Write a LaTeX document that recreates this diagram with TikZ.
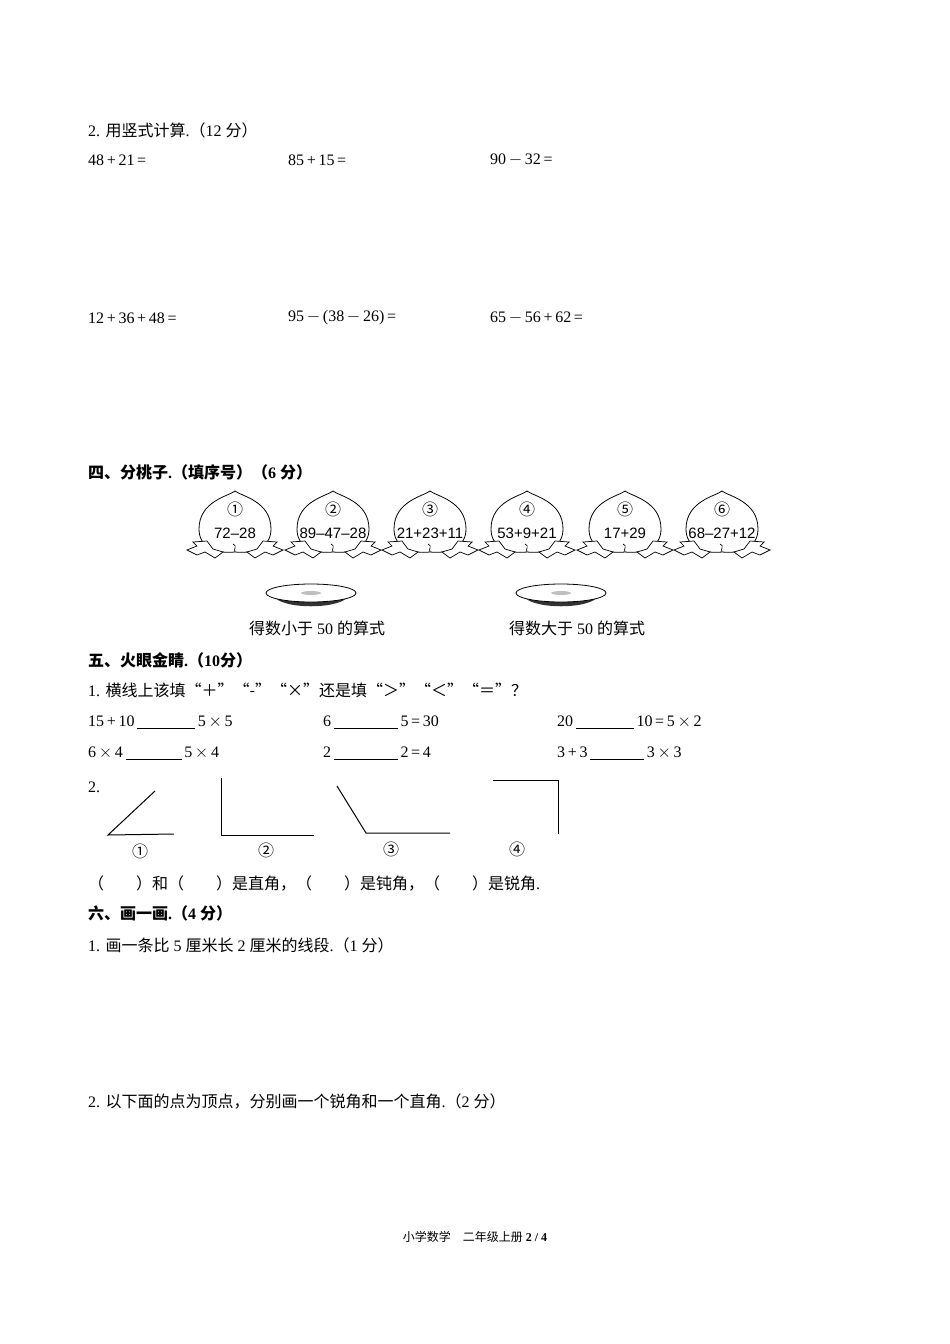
\documentclass[tikz,border=0pt]{standalone}
\usepackage{fontspec}
\setmainfont{Liberation Serif}
\newfontfamily\cjk{Noto Sans CJK SC}
\newfontfamily\pnum{Liberation Sans}
\usetikzlibrary{positioning}
\newcommand{\zh}[1]{{\cjk #1}}
\newcommand{\blank}[1]{\underline{\hspace{#1}}}

\tikzset{
  txt/.style={anchor=west, inner sep=0pt, font=\fontsize{16}{19}\selectfont},
  head/.style={txt, font=\fontsize{16}{19}\selectfont\bfseries},
  numlabel/.style={inner sep=0pt, font=\fontsize{16}{18}\selectfont\cjk},
  ray/.style={line width=1pt},
  peach/.pic={
    \draw[line width=0.8pt,fill=white] (0,-36) .. controls (-6,-31) and (-36,-26) .. (-36,2)
      .. controls (-36,20) and (-20,27) .. (0,25)
      .. controls (20,27) and (36,20) .. (36,2)
      .. controls (36,-26) and (6,-31) .. (0,-36) -- cycle;
    \draw[line width=0.7pt] (-2,17) .. controls (3,19) and (-2,22) .. (0,25);
    \draw[line width=0.7pt,fill=white] (-28,14) -- (-42,15) -- (-38,19) -- (-48,23) -- (-38,28)
      -- (-30,25) -- (-20,31) -- (-12,25) -- (-22,22) -- cycle;
    \draw[line width=0.7pt,fill=white] (28,14) -- (42,15) -- (38,19) -- (48,23) -- (38,28)
      -- (30,25) -- (20,31) -- (12,25) -- (22,22) -- cycle;
  },
  plate/.pic={
    \fill[black!80] (-38,2) .. controls (-32,17) and (32,17) .. (38,2) -- cycle;
    \draw[line width=0.8pt,fill=white] (0,0) ellipse [x radius=45, y radius=9];
    \fill[black!25] (0,0) ellipse [x radius=10, y radius=2];
  }
}

\begin{document}
\begin{tikzpicture}[x=1pt,y=-1pt]
  \useasboundingbox (0,0) rectangle (950,1344);

  % vertical calculation
  \node[txt] (q2) at (88,130) {2. \zh{用竖式计算}.\zh{（}12 \zh{分）}};
  \node[txt] (c1) at (88,160) {48\,+\,21\,=};
  \node[txt] (c2) at (288,160) {85\,+\,15\,=};
  \node[txt] (c3) at (490,160) {90\,$-$\,32\,=};
  \node[txt] (c4) at (88,318) {12\,+\,36\,+\,48\,=};
  \node[txt] (c5) at (288,318) {95\,$-$\,(38\,$-$\,26)\,=};
  \node[txt] (c6) at (490,318) {65\,$-$\,56\,+\,62\,=};

  % peaches
  \node[head] (s4) at (88,472) {\zh{四、分桃子}.\zh{（填序号）（}6 \zh{分）}};
  \foreach \i/\x/\e in {1/235/72–28, 2/333/89–47–28, 3/430/21+23+11,
                        4/527/53+9+21, 5/625/17+29, 6/722/68–27+12} {
    \pic at (\x,527) {peach};
    \node[numlabel] (pn\i) at (\x,509) {\ifcase\i\or ①\or ②\or ③\or ④\or ⑤\or ⑥\fi};
    \node[inner sep=0pt, font=\fontsize{15}{17}\selectfont\pnum] (pe\i) at (\x,533) {\e};
  }
  \pic at (311,593) {plate};
  \pic at (561,593) {plate};
  \node[txt, anchor=center] (less) at (317,628) {\zh{得数小于} 50 \zh{的算式}};
  \node[txt, anchor=center] (more) at (577,628) {\zh{得数大于} 50 \zh{的算式}};

  % sharp eyes
  \node[head] (s5) at (88,660) {\zh{五、火眼金睛}.\zh{（}10\zh{分）}};
  \node[txt] (f1) at (88,690) {1. \zh{横线上该填“＋”“-”“×”还是填“＞”“＜”“＝”？}};
  \node[txt] (b1) at (88,722) {15\,+\,10\,\blank{58pt}\,5\,$\times$\,5};
  \node[txt] (b2) at (323,722) {6\,\blank{64pt}\,5\,=\,30};
  \node[txt] (b3) at (557,722) {20\,\blank{58pt}\,10\,=\,5\,$\times$\,2};
  \node[txt] (b4) at (88,753) {6\,$\times$\,4\,\blank{56pt}\,5\,$\times$\,4};
  \node[txt] (b5) at (323,753) {2\,\blank{64pt}\,2\,=\,4};
  \node[txt] (b6) at (557,753) {3\,+\,3\,\blank{54pt}\,3\,$\times$\,3};
  \node[txt] (f2) at (88,787) {2.};

  % angles
  \coordinate (a1) at (108,835); \coordinate (a1r) at (174,834); \coordinate (a1s) at (155,791);
  \draw[ray] (a1s) -- (a1) -- (a1r);
  \coordinate (a2) at (221,835); \coordinate (a2r) at (314,835); \coordinate (a2s) at (221,778);
  \draw[ray] (a2s) -- (a2) -- (a2r);
  \coordinate (a3) at (366,833); \coordinate (a3r) at (450,833); \coordinate (a3s) at (337,786);
  \draw[ray] (a3s) -- (a3) -- (a3r);
  \coordinate (a4) at (558,780); \coordinate (a4r) at (493,780); \coordinate (a4s) at (558,834);
  \draw[ray] (a4s) -- (a4) -- (a4r);
  \node[numlabel] (l1) at (140,851) {①};
  \node[numlabel] (l2) at (266,850) {②};
  \node[numlabel] (l3) at (391,849) {③};
  \node[numlabel] (l4) at (517,849) {④};
  \node[txt] (ans) at (88,883) {\zh{（　　）和（　　）是直角，（　　）是钝角，（　　）是锐角}.};

  % drawing
  \node[head] (s6) at (88,913) {\zh{六、画一画}.\zh{（}4 \zh{分）}};
  \node[txt] (d1) at (88,945) {1. \zh{画一条比} 5 \zh{厘米长} 2 \zh{厘米的线段}.\zh{（}1 \zh{分）}};
  \node[txt] (d2) at (88,1101) {2. \zh{以下面的点为顶点，分别画一个锐角和一个直角}.\zh{（}2 \zh{分）}};

  \node[inner sep=0pt, font=\fontsize{12}{14}\selectfont] (foot) at (475,1237)
    {\zh{小学数学\quad 二年级上册} \textbf{2 / 4}};
\end{tikzpicture}
\end{document}
